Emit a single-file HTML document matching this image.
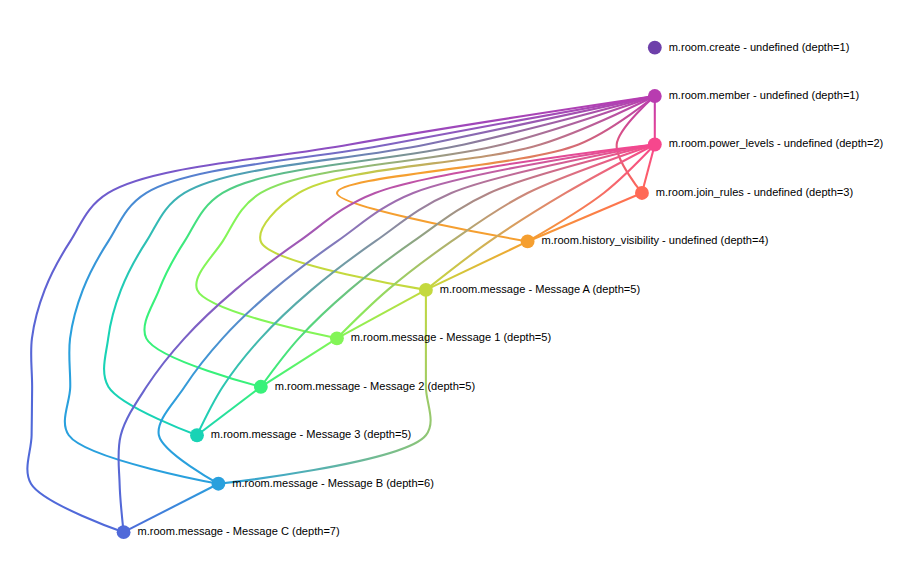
<!DOCTYPE html>
<html>
<head>
<meta charset="utf-8">
<title>DAG</title>
<style>
html, body { margin: 0; padding: 0; background: #ffffff; }
body { width: 904px; height: 566px; overflow: hidden; font-family: "Liberation Sans", sans-serif; }
svg { display: block; }
svg text { font-family: "Liberation Sans", sans-serif; font-size: 11.08px; fill: #000; }
</style>
</head>
<body>
<svg width="904" height="566" viewBox="0 0 904 566">
<defs>
<linearGradient id="g-member-power" gradientUnits="userSpaceOnUse" x1="654.8" x2="654.8" y1="96.04" y2="144.5"><stop offset="0%" stop-color="rgb(184, 60, 176)"/><stop offset="100%" stop-color="rgb(246, 71, 141)"/></linearGradient>
<linearGradient id="g-member-join" gradientUnits="userSpaceOnUse" x1="654.8" x2="641.95" y1="96.04" y2="192.96"><stop offset="0%" stop-color="rgb(184, 60, 176)"/><stop offset="100%" stop-color="rgb(255, 105, 86)"/></linearGradient>
<linearGradient id="g-member-hist" gradientUnits="userSpaceOnUse" x1="654.8" x2="527.6" y1="96.04" y2="241.42"><stop offset="0%" stop-color="rgb(184, 60, 176)"/><stop offset="100%" stop-color="rgb(245, 159, 48)"/></linearGradient>
<linearGradient id="g-member-A" gradientUnits="userSpaceOnUse" x1="654.8" x2="425.9" y1="96.04" y2="289.88"><stop offset="0%" stop-color="rgb(184, 60, 176)"/><stop offset="100%" stop-color="rgb(196, 217, 62)"/></linearGradient>
<linearGradient id="g-member-1" gradientUnits="userSpaceOnUse" x1="654.8" x2="336.9" y1="96.04" y2="338.34"><stop offset="0%" stop-color="rgb(184, 60, 176)"/><stop offset="100%" stop-color="rgb(131, 245, 87)"/></linearGradient>
<linearGradient id="g-member-2" gradientUnits="userSpaceOnUse" x1="654.8" x2="260.85" y1="96.04" y2="386.8"><stop offset="0%" stop-color="rgb(184, 60, 176)"/><stop offset="100%" stop-color="rgb(56, 241, 122)"/></linearGradient>
<linearGradient id="g-member-3" gradientUnits="userSpaceOnUse" x1="654.8" x2="197" y1="96.04" y2="435.26"><stop offset="0%" stop-color="rgb(184, 60, 176)"/><stop offset="100%" stop-color="rgb(25, 211, 181)"/></linearGradient>
<linearGradient id="g-member-B" gradientUnits="userSpaceOnUse" x1="654.8" x2="218.4" y1="96.04" y2="483.72"><stop offset="0%" stop-color="rgb(184, 60, 176)"/><stop offset="100%" stop-color="rgb(41, 160, 221)"/></linearGradient>
<linearGradient id="g-member-C" gradientUnits="userSpaceOnUse" x1="654.8" x2="123.6" y1="96.04" y2="532.18"><stop offset="0%" stop-color="rgb(184, 60, 176)"/><stop offset="100%" stop-color="rgb(80, 105, 217)"/></linearGradient>
<linearGradient id="g-power-join" gradientUnits="userSpaceOnUse" x1="654.8" x2="641.95" y1="144.5" y2="192.96"><stop offset="0%" stop-color="rgb(246, 71, 141)"/><stop offset="100%" stop-color="rgb(255, 105, 86)"/></linearGradient>
<linearGradient id="g-power-hist" gradientUnits="userSpaceOnUse" x1="654.8" x2="527.6" y1="144.5" y2="241.42"><stop offset="0%" stop-color="rgb(246, 71, 141)"/><stop offset="100%" stop-color="rgb(245, 159, 48)"/></linearGradient>
<linearGradient id="g-power-A" gradientUnits="userSpaceOnUse" x1="654.8" x2="425.9" y1="144.5" y2="289.88"><stop offset="0%" stop-color="rgb(246, 71, 141)"/><stop offset="100%" stop-color="rgb(196, 217, 62)"/></linearGradient>
<linearGradient id="g-power-1" gradientUnits="userSpaceOnUse" x1="654.8" x2="336.9" y1="144.5" y2="338.34"><stop offset="0%" stop-color="rgb(246, 71, 141)"/><stop offset="100%" stop-color="rgb(131, 245, 87)"/></linearGradient>
<linearGradient id="g-power-2" gradientUnits="userSpaceOnUse" x1="654.8" x2="260.85" y1="144.5" y2="386.8"><stop offset="0%" stop-color="rgb(246, 71, 141)"/><stop offset="100%" stop-color="rgb(56, 241, 122)"/></linearGradient>
<linearGradient id="g-power-3" gradientUnits="userSpaceOnUse" x1="654.8" x2="197" y1="144.5" y2="435.26"><stop offset="0%" stop-color="rgb(246, 71, 141)"/><stop offset="100%" stop-color="rgb(25, 211, 181)"/></linearGradient>
<linearGradient id="g-power-B" gradientUnits="userSpaceOnUse" x1="654.8" x2="218.4" y1="144.5" y2="483.72"><stop offset="0%" stop-color="rgb(246, 71, 141)"/><stop offset="100%" stop-color="rgb(41, 160, 221)"/></linearGradient>
<linearGradient id="g-power-C" gradientUnits="userSpaceOnUse" x1="654.8" x2="123.6" y1="144.5" y2="532.18"><stop offset="0%" stop-color="rgb(246, 71, 141)"/><stop offset="100%" stop-color="rgb(80, 105, 217)"/></linearGradient>
<linearGradient id="g-join-hist" gradientUnits="userSpaceOnUse" x1="641.95" x2="527.6" y1="192.96" y2="241.42"><stop offset="0%" stop-color="rgb(255, 105, 86)"/><stop offset="100%" stop-color="rgb(245, 159, 48)"/></linearGradient>
<linearGradient id="g-hist-A" gradientUnits="userSpaceOnUse" x1="527.6" x2="425.9" y1="241.42" y2="289.88"><stop offset="0%" stop-color="rgb(245, 159, 48)"/><stop offset="100%" stop-color="rgb(196, 217, 62)"/></linearGradient>
<linearGradient id="g-A-1" gradientUnits="userSpaceOnUse" x1="425.9" x2="336.9" y1="289.88" y2="338.34"><stop offset="0%" stop-color="rgb(196, 217, 62)"/><stop offset="100%" stop-color="rgb(131, 245, 87)"/></linearGradient>
<linearGradient id="g-1-2" gradientUnits="userSpaceOnUse" x1="336.9" x2="260.85" y1="338.34" y2="386.8"><stop offset="0%" stop-color="rgb(131, 245, 87)"/><stop offset="100%" stop-color="rgb(56, 241, 122)"/></linearGradient>
<linearGradient id="g-2-3" gradientUnits="userSpaceOnUse" x1="260.85" x2="197" y1="386.8" y2="435.26"><stop offset="0%" stop-color="rgb(56, 241, 122)"/><stop offset="100%" stop-color="rgb(25, 211, 181)"/></linearGradient>
<linearGradient id="g-A-B" gradientUnits="userSpaceOnUse" x1="425.9" x2="218.4" y1="289.88" y2="483.72"><stop offset="0%" stop-color="rgb(196, 217, 62)"/><stop offset="100%" stop-color="rgb(41, 160, 221)"/></linearGradient>
<linearGradient id="g-B-C" gradientUnits="userSpaceOnUse" x1="218.4" x2="123.6" y1="483.72" y2="532.18"><stop offset="0%" stop-color="rgb(41, 160, 221)"/><stop offset="100%" stop-color="rgb(80, 105, 217)"/></linearGradient>
</defs>
<g>
<path d="M654.8,96.04L654.8,144.5" fill="none" stroke-width="2.08" stroke="url(#g-member-power)"/>
<path d="M654.8,96.04C654.8,96.04,618.234,127.83,616.68,144.5C615.217,160.195,641.95,192.96,641.95,192.96" fill="none" stroke-width="2.08" stroke="url(#g-member-join)"/>
<path d="M654.8,96.04C654.8,96.04,612.778,130.75,578.56,144.5C522.05,167.208,337.428,175.789,336.99,192.96C336.599,208.301,527.6,241.42,527.6,241.42" fill="none" stroke-width="2.08" stroke="url(#g-member-hist)"/>
<path d="M654.8,96.04C654.8,96.04,586.471,130.292,540.44,144.5C475.609,164.512,342.647,166.049,298.87,192.96C276.972,206.422,256.371,227.695,260.76,241.42C268.093,264.352,425.9,289.88,425.9,289.88" fill="none" stroke-width="2.08" stroke="url(#g-member-A)"/>
<path d="M654.8,96.04C654.8,96.04,559.422,129.746,502.32,144.5C431.46,162.809,304.527,166.049,260.75,192.96C238.852,206.422,233.44,224.757,222.64,241.42C212.463,257.121,191.738,276.119,197.18,289.88C206.125,312.497,336.9,338.34,336.9,338.34" fill="none" stroke-width="2.08" stroke="url(#g-member-1)"/>
<path d="M654.8,96.04C654.8,96.04,531.701,129.159,464.2,144.5C388.647,161.671,266.407,166.049,222.63,192.96C200.732,206.422,195.32,224.757,184.52,241.42C174.343,257.121,165.481,273.354,159.06,289.88C152.916,305.692,139.491,324.478,146.3,338.34C157.027,360.179,260.85,386.8,260.85,386.8" fill="none" stroke-width="2.08" stroke="url(#g-member-2)"/>
<path d="M654.8,96.04C654.8,96.04,503.405,128.553,426.08,144.5C346.701,160.871,228.287,166.049,184.51,192.96C162.612,206.422,157.2,224.757,146.4,241.42C136.223,257.121,127.361,273.354,120.94,289.88C114.796,305.692,110.256,322.049,108.18,338.34C106.138,354.36,99.959,372.678,108.37,386.8C120.513,407.188,197,435.26,197,435.26" fill="none" stroke-width="2.08" stroke="url(#g-member-3)"/>
<path d="M654.8,96.04C654.8,96.04,474.621,127.94,387.96,144.5C305.36,160.284,190.167,166.049,146.39,192.96C124.492,206.422,119.08,224.757,108.28,241.42C98.103,257.121,89.241,273.354,82.82,289.88C76.676,305.692,72.136,322.049,70.06,338.34C68.018,354.36,70.46,370.648,70.25,386.8C70.04,402.955,59.226,421.672,68.8,435.26C86.044,459.733,218.4,483.72,218.4,483.72" fill="none" stroke-width="2.08" stroke="url(#g-member-B)"/>
<path d="M654.8,96.04C654.8,96.04,445.415,127.327,349.84,144.5C264.467,159.84,152.047,166.049,108.27,192.96C86.372,206.422,80.96,224.757,70.16,241.42C59.983,257.121,51.121,273.354,44.7,289.88C38.556,305.692,34.016,322.049,31.94,338.34C29.898,354.36,32.187,370.647,32.13,386.8C32.073,402.954,31.788,419.107,31.6,435.26C31.412,451.413,22.604,469.654,31,483.72C43.329,504.376,123.6,532.18,123.6,532.18" fill="none" stroke-width="2.08" stroke="url(#g-member-C)"/>
<path d="M654.8,144.5L641.95,192.96" fill="none" stroke-width="2.08" stroke="url(#g-power-join)"/>
<path d="M654.8,144.5C654.8,144.5,623.366,177.697,603.83,192.96C581.69,210.257,527.6,241.42,527.6,241.42" fill="none" stroke-width="2.08" stroke="url(#g-power-hist)"/>
<path d="M654.8,144.5C654.8,144.5,593.98,176.311,565.71,192.96C539.03,208.672,513.405,224.742,489.48,241.42C466.972,257.109,425.9,289.88,425.9,289.88" fill="none" stroke-width="2.08" stroke="url(#g-power-A)"/>
<path d="M654.8,144.5C654.8,144.5,563.816,174.781,527.59,192.96C498.081,207.769,475.285,224.742,451.36,241.42C428.852,257.109,407.372,273.171,387.78,289.88C369.412,305.545,336.9,338.34,336.9,338.34" fill="none" stroke-width="2.08" stroke="url(#g-power-1)"/>
<path d="M654.8,144.5C654.8,144.5,532.97,173.236,489.47,192.96C457.973,207.241,437.165,224.742,413.24,241.42C390.732,257.109,369.252,273.171,349.66,289.88C331.292,305.545,313.958,321.615,298.78,338.34C284.576,353.992,260.85,386.8,260.85,386.8" fill="none" stroke-width="2.08" stroke="url(#g-power-2)"/>
<path d="M654.8,144.5C654.8,144.5,501.575,171.722,451.35,192.96C418.342,206.917,399.045,224.742,375.12,241.42C352.612,257.109,331.132,273.171,311.54,289.88C293.172,305.545,275.838,321.615,260.66,338.34C246.456,353.992,233.542,370.156,222.73,386.8C212.521,402.516,197,435.26,197,435.26" fill="none" stroke-width="2.08" stroke="url(#g-power-3)"/>
<path d="M654.8,144.5C654.8,144.5,469.737,170.251,413.23,192.96C379.015,206.71,360.925,224.742,337,241.42C314.492,257.109,293.012,273.171,273.42,289.88C255.052,305.545,237.718,321.615,222.54,338.34C208.336,353.992,195.422,370.156,184.61,386.8C174.401,402.516,155.842,420.25,158.88,435.26C162.473,453.013,218.4,483.72,218.4,483.72" fill="none" stroke-width="2.08" stroke="url(#g-power-B)"/>
<path d="M654.8,144.5C654.8,144.5,437.533,168.827,375.11,192.96C339.897,206.574,322.805,224.742,298.88,241.42C276.372,257.109,254.892,273.171,235.3,289.88C216.932,305.545,199.598,321.615,184.42,338.34C170.216,353.992,157.302,370.156,146.49,386.8C136.281,402.516,125.128,418.575,120.76,435.26C116.655,450.943,119.128,467.579,119.6,483.72C120.072,499.886,123.6,532.18,123.6,532.18" fill="none" stroke-width="2.08" stroke="url(#g-power-C)"/>
<path d="M641.95,192.96L527.6,241.42" fill="none" stroke-width="2.08" stroke="url(#g-join-hist)"/>
<path d="M527.6,241.42L425.9,289.88" fill="none" stroke-width="2.08" stroke="url(#g-hist-A)"/>
<path d="M425.9,289.88L336.9,338.34" fill="none" stroke-width="2.08" stroke="url(#g-A-1)"/>
<path d="M336.9,338.34L260.85,386.8" fill="none" stroke-width="2.08" stroke="url(#g-1-2)"/>
<path d="M260.85,386.8L197,435.26" fill="none" stroke-width="2.08" stroke="url(#g-2-3)"/>
<path d="M425.9,289.88C425.9,289.88,425.9,322.187,425.9,338.34C425.9,354.493,425.9,370.647,425.9,386.8C425.9,402.953,436.551,421.835,425.9,435.26C403.566,463.411,218.4,483.72,218.4,483.72" fill="none" stroke-width="2.08" stroke="url(#g-A-B)"/>
<path d="M218.4,483.72L123.6,532.18" fill="none" stroke-width="2.08" stroke="url(#g-B-C)"/>
</g>
<g>
<g transform="translate(654.8, 47.58)"><circle r="6.93" fill="rgb(110, 64, 170)"/><text x="13.85" y="0.035" dominant-baseline="middle">m.room.create - undefined (depth=1)</text></g>
<g transform="translate(654.8, 96.04)"><circle r="6.93" fill="rgb(184, 60, 176)"/><text x="13.85" y="0.035" dominant-baseline="middle">m.room.member - undefined (depth=1)</text></g>
<g transform="translate(654.8, 144.5)"><circle r="6.93" fill="rgb(246, 71, 141)"/><text x="13.85" y="0.035" dominant-baseline="middle">m.room.power_levels - undefined (depth=2)</text></g>
<g transform="translate(641.95, 192.96)"><circle r="6.93" fill="rgb(255, 105, 86)"/><text x="13.85" y="0.035" dominant-baseline="middle">m.room.join_rules - undefined (depth=3)</text></g>
<g transform="translate(527.6, 241.42)"><circle r="6.93" fill="rgb(245, 159, 48)"/><text x="13.85" y="0.035" dominant-baseline="middle">m.room.history_visibility - undefined (depth=4)</text></g>
<g transform="translate(425.9, 289.88)"><circle r="6.93" fill="rgb(196, 217, 62)"/><text x="13.85" y="0.035" dominant-baseline="middle">m.room.message - Message A (depth=5)</text></g>
<g transform="translate(336.9, 338.34)"><circle r="6.93" fill="rgb(131, 245, 87)"/><text x="13.85" y="0.035" dominant-baseline="middle">m.room.message - Message 1 (depth=5)</text></g>
<g transform="translate(260.85, 386.8)"><circle r="6.93" fill="rgb(56, 241, 122)"/><text x="13.85" y="0.035" dominant-baseline="middle">m.room.message - Message 2 (depth=5)</text></g>
<g transform="translate(197, 435.26)"><circle r="6.93" fill="rgb(25, 211, 181)"/><text x="13.85" y="0.035" dominant-baseline="middle">m.room.message - Message 3 (depth=5)</text></g>
<g transform="translate(218.4, 483.72)"><circle r="6.93" fill="rgb(41, 160, 221)"/><text x="13.85" y="0.035" dominant-baseline="middle">m.room.message - Message B (depth=6)</text></g>
<g transform="translate(123.6, 532.18)"><circle r="6.93" fill="rgb(80, 105, 217)"/><text x="13.85" y="0.035" dominant-baseline="middle">m.room.message - Message C (depth=7)</text></g>
</g>
</svg>
</body>
</html>
